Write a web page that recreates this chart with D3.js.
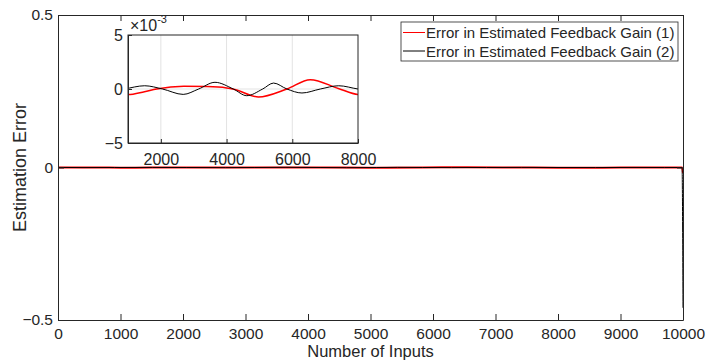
<!DOCTYPE html>
<html>
<head>
<meta charset="utf-8">
<script src="https://cdn.jsdelivr.net/npm/d3@7"></script>
<style>
  body { margin: 0; background: #fff; }
  svg text { font-family: "Liberation Sans", Arial, sans-serif; fill: #262626; }
</style>
</head>
<body>
<div id="root"></div>
<script>
// dati (errori in unità di 1e-3)
const gain1X = [0, 500, 1000, 1500, 1870, 2700, 3400, 4000, 4250, 4970, 5836, 6548, 7400, 8000, 8500, 9000, 9500, 9985, 10000];
const gain1Y = [0.3, 0.0, -0.52, -0.25, 0.0, 0.25, 0.22, 0.1, -0.04, -0.74, 0.0, 0.86, 0.05, -0.52, -0.6, -0.2, 0.2, 0.0, -18];
const gain2X = [0, 400, 900, 1509, 2050, 2680, 3150, 3647, 4207, 4614, 5100, 5430, 5836, 6294, 6854, 7413, 8000, 8600, 9200, 9700, 9985, 10000];
const gain2Y = [0.3, -0.3, 0.0, 0.3, 0.0, -0.5, 0.0, 0.62, 0.0, -0.62, 0.0, 0.55, 0.0, -0.37, 0.0, 0.3, 0.0, -0.2, 0.15, -0.1, 0.0, -460];
const seriesNames = ["Error in Estimated Feedback Gain (1)", "Error in Estimated Feedback Gain (2)"];
const xTicks = [0, 1000, 2000, 3000, 4000, 5000, 6000, 7000, 8000, 9000, 10000];
const yTicks = [-0.5, 0, 0.5];
const insetXTicks = [2000, 4000, 6000, 8000];
const insetYTicks = [-5, 0, 5];

const W = 707, H = 361;
const main = { left: 58, right: 683, top: 15, bottom: 320 };
const inset = { left: 128, right: 358, top: 35, bottom: 143 };
const ink = "#262626";

const svg = d3.select("#root").append("svg")
    .attr("width", W)
    .attr("height", H);

const series = [
    { name: seriesNames[0], color: "red", w: 2, wi: 1.5, pts: gain1X.map((x, i) => [x, gain1Y[i]]) },
    { name: seriesNames[1], color: "black", w: 1, wi: 1, pts: gain2X.map((x, i) => [x, gain2Y[i]]) }
];

// assi principali
const x = d3.scaleLinear().domain([0, 10000]).range([main.left, main.right]);
const y = d3.scaleLinear().domain([-0.5, 0.5]).range([main.bottom, main.top]);

svg.append("defs").append("clipPath").attr("id", "clipMain")
    .append("rect").attr("x", main.left).attr("y", main.top)
    .attr("width", main.right - main.left).attr("height", main.bottom - main.top);

const line = d3.line()
    .x(d => x(d[0]))
    .y(d => y(d[1] / 1000))
    .curve(d3.curveMonotoneX);

const lines = svg.append("g").attr("clip-path", "url(#clipMain)");
series.forEach(s => {
    lines.append("path")
        .datum(s.pts)
        .attr("fill", "none")
        .attr("stroke", s.color)
        .attr("stroke-width", s.w)
        .attr("d", line);
});

function styleAxis(size) {
    return g => {
        g.selectAll("path, line").attr("stroke", ink);
        g.selectAll("text").style("font-size", size + "px").attr("fill", ink);
    };
}

svg.append("g")
    .attr("transform", `translate(0,${main.bottom})`)
    .call(d3.axisBottom(x).tickValues(xTicks).tickFormat(d3.format("d")).tickSizeInner(-6).tickSizeOuter(0).tickPadding(8))
    .call(styleAxis(15.5));
svg.append("g")
    .attr("transform", `translate(0,${main.top})`)
    .call(d3.axisTop(x).tickValues(xTicks).tickFormat("").tickSizeInner(-6).tickSizeOuter(0))
    .call(styleAxis(15.5));
svg.append("g")
    .attr("transform", `translate(${main.left},0)`)
    .call(d3.axisLeft(y).tickValues(yTicks).tickFormat(d => d === 0 ? "0" : d3.format(".1f")(d)).tickSizeInner(-6).tickSizeOuter(0).tickPadding(5))
    .call(styleAxis(15.5));
svg.append("g")
    .attr("transform", `translate(${main.right},0)`)
    .call(d3.axisRight(y).tickValues(yTicks).tickFormat("").tickSizeInner(-6).tickSizeOuter(0))
    .call(styleAxis(15.5));

svg.append("text")
    .attr("x", (main.left + main.right) / 2)
    .attr("y", 357)
    .attr("text-anchor", "middle")
    .style("font-size", "16.5px")
    .text("Number of Inputs");
svg.append("text")
    .attr("transform", `translate(26,${(main.top + main.bottom) / 2}) rotate(-90)`)
    .attr("text-anchor", "middle")
    .style("font-size", "18px")
    .text("Estimation Error");

// legenda
const leg = svg.append("g");
leg.append("rect")
    .attr("x", 401).attr("y", 22).attr("width", 277).attr("height", 39)
    .attr("fill", "#fff").attr("stroke", ink).attr("stroke-width", 0.8);
series.forEach((s, i) => {
    const ly = 32.5 + i * 18.5;
    leg.append("line")
        .attr("x1", 403).attr("x2", 425).attr("y1", ly).attr("y2", ly)
        .attr("stroke", s.color).attr("stroke-width", 1);
    leg.append("text")
        .attr("x", 426).attr("y", ly + 5.5)
        .style("font-size", "15px")
        .text(s.name);
});

// riquadro ingrandito
const xi = d3.scaleLinear().domain([1000, 8000]).range([inset.left, inset.right]);
const yi = d3.scaleLinear().domain([-5, 5]).range([inset.bottom, inset.top]);

svg.append("rect")
    .attr("x", inset.left).attr("y", inset.top)
    .attr("width", inset.right - inset.left).attr("height", inset.bottom - inset.top)
    .attr("fill", "#fff");

svg.select("defs").append("clipPath").attr("id", "clipInset")
    .append("rect").attr("x", inset.left).attr("y", inset.top)
    .attr("width", inset.right - inset.left).attr("height", inset.bottom - inset.top);

const grid = svg.append("g").attr("stroke", "#e3e3e3").attr("stroke-width", 1);
insetXTicks.filter(t => t < 8000).forEach(t => {
    grid.append("line").attr("x1", xi(t)).attr("x2", xi(t)).attr("y1", inset.top).attr("y2", inset.bottom);
});
insetYTicks.filter(t => t === 0).forEach(t => {
    grid.append("line").attr("x1", inset.left).attr("x2", inset.right).attr("y1", yi(t)).attr("y2", yi(t));
});

const lineInset = d3.line()
    .x(d => xi(d[0]))
    .y(d => yi(d[1]))
    .curve(d3.curveMonotoneX);

const linesInset = svg.append("g").attr("clip-path", "url(#clipInset)");
series.forEach(s => {
    linesInset.append("path")
        .datum(s.pts.filter(p => p[0] < 9900))
        .attr("fill", "none")
        .attr("stroke", s.color)
        .attr("stroke-width", s.wi)
        .attr("d", lineInset);
});

svg.append("g")
    .attr("transform", `translate(0,${inset.bottom})`)
    .call(d3.axisBottom(xi).tickValues(insetXTicks).tickFormat(d3.format("d")).tickSizeInner(-4).tickSizeOuter(0).tickPadding(10.5))
    .call(styleAxis(16));
svg.append("g")
    .attr("transform", `translate(${inset.left},0)`)
    .call(d3.axisLeft(yi).tickValues(insetYTicks).tickFormat(d3.format("d")).tickSizeInner(-4).tickSizeOuter(0).tickPadding(5))
    .call(styleAxis(16));
svg.append("rect")
    .attr("x", inset.left).attr("y", inset.top)
    .attr("width", inset.right - inset.left).attr("height", inset.bottom - inset.top)
    .attr("fill", "none").attr("stroke", ink).attr("stroke-width", 1);

// esponente
const ex = svg.append("text").attr("x", 130).attr("y", 31).style("font-size", "16px");
ex.append("tspan").text("\u00d710");
ex.append("tspan").attr("dy", -8).style("font-size", "11px").text("-3");
</script>
</body>
</html>
